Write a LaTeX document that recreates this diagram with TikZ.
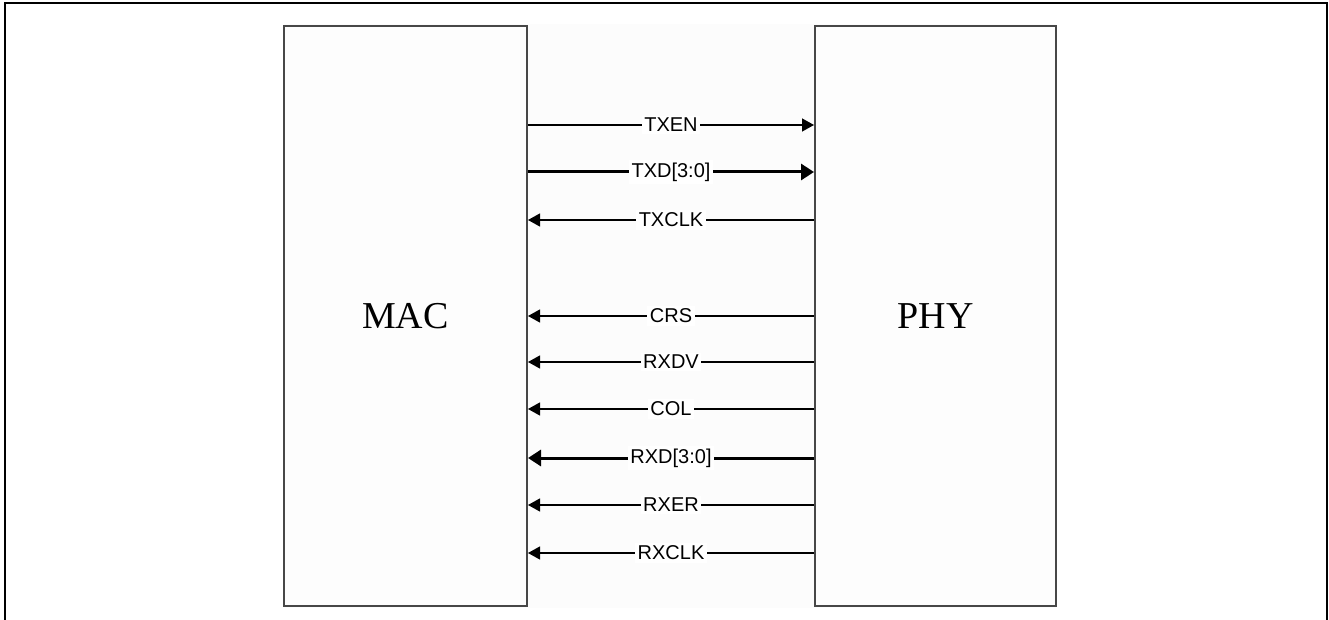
\documentclass[tikz,border=0pt]{standalone}
\usepackage{fontspec}
\setmainfont{Liberation Serif}
\newfontfamily\sigfont{Liberation Sans}
\usetikzlibrary{arrows.meta}

\begin{document}
\begin{tikzpicture}[
x=1pt, y=1pt,
block/.style = {draw=black!72, line width=2pt, fill=black!0.8, minimum height=580pt,
  font=\fontsize{38}{38}\selectfont},
sig/.style = {line width=1.3pt},
bus/.style = {line width=3pt},
tx/.style = {-{Triangle[length=12pt,width=13pt]}},
rx/.style = {{Triangle[length=12pt,width=13pt]}-},
txbus/.style = {-{Triangle[length=13pt,width=16pt]}},
rxbus/.style = {{Triangle[length=13pt,width=16pt]}-},
lbl/.style = {fill=white, inner sep=2.5pt, font=\sigfont\fontsize{20}{20}\selectfont} ]
\useasboundingbox (0,0) rectangle (1329,619);
\draw[line width=1.5pt] (5,-5) rectangle (1327,616);
\fill[black!1] (284,11) rectangle (1056,595);

\node[block, minimum width=243pt] (mac) at (405.5,303) {MAC};
\node[block, minimum width=241pt] (phy) at (935.5,303) {PHY};

\draw[sig,tx] ([yshift=191pt]mac.east) -- node[lbl] {TXEN} ([yshift=191pt]phy.west);
\draw[bus,txbus] ([yshift=144pt]mac.east) -- node[lbl] {TXD[3:0]} ([yshift=144pt]phy.west);
\draw[sig,rx] ([yshift=96pt]mac.east) -- node[lbl] {TXCLK} ([yshift=96pt]phy.west);
\draw[sig,rx] (mac.east) -- node[lbl] {CRS} (phy.west);
\draw[sig,rx] ([yshift=-46pt]mac.east) -- node[lbl] {RXDV} ([yshift=-46pt]phy.west);
\draw[sig,rx] ([yshift=-93pt]mac.east) -- node[lbl] {COL} ([yshift=-93pt]phy.west);
\draw[bus,rxbus] ([yshift=-142pt]mac.east) -- node[lbl] {RXD[3:0]} ([yshift=-142pt]phy.west);
\draw[sig,rx] ([yshift=-189pt]mac.east) -- node[lbl] {RXER} ([yshift=-189pt]phy.west);
\draw[sig,rx] ([yshift=-237pt]mac.east) -- node[lbl] {RXCLK} ([yshift=-237pt]phy.west);

\end{tikzpicture}
\end{document}
